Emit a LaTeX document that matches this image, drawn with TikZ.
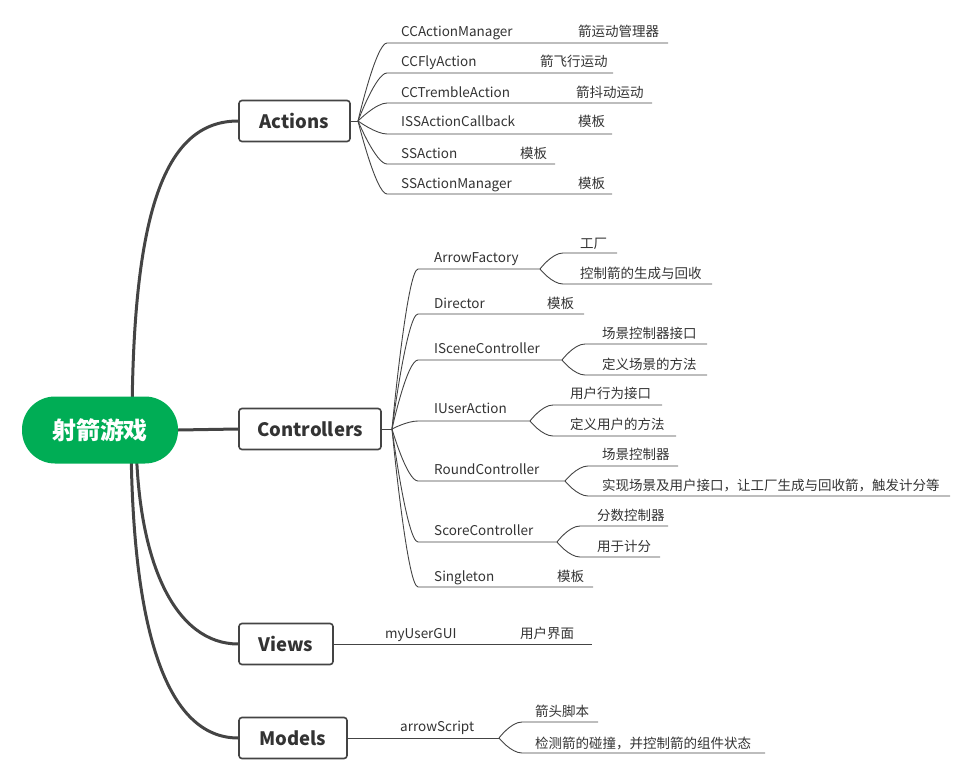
\documentclass[tikz,border=0pt]{standalone}
\usepackage{fontspec}
\setmainfont{Noto Sans CJK SC}
\usetikzlibrary{backgrounds}
\definecolor{mindgreen}{RGB}{0,173,85}
\definecolor{lineg}{RGB}{68,68,68}
\definecolor{inkg}{RGB}{51,51,51}
\begin{document}
\begin{tikzpicture}
    [ x=1pt, y=-1pt
    , every node/.style={font=\fontsize{13.5}{16}\selectfont, text=inkg, inner sep=0pt}
    , root/.style={fill=mindgreen, rounded corners=33pt, minimum width=156, minimum height=67, text=white, font=\fontsize{24}{28}\selectfont\bfseries}
    , topic/.style={draw=lineg, line width=1.6pt, rounded corners=3pt, fill=white, minimum height=41, font=\fontsize{18.5}{22}\selectfont\bfseries}
    , leaf/.style={anchor=base west}
    , trunk/.style={draw=lineg, line width=3pt}
    , twig/.style={draw=lineg, line width=0.9pt}
    , fork/.style={to path={.. controls (\tikztostart) and +(-11,0) .. (\tikztotarget)}}
    ]
    \useasboundingbox (0,0) rectangle (972,781);

    \node [root] (game) at (100,430) {射箭游戏};
    \node [topic, minimum width=111] (actions) at (294.5,121) {Actions};
    \node [topic, minimum width=142] (ctrl) at (310,429) {Controllers};
    \node [topic, minimum width=94] (views) at (286,644) {Views};
    \node [topic, minimum width=108] (models) at (293,738) {Models};

    % Actions
    \coordinate (aFan) at (358,121);
    \path (387,43)  coordinate (ccamL) (668,43)  coordinate (ccamR)
          (401,37)  node [leaf] (ccam) {CCActionManager}
          (578,37)  node [leaf] (ccamN) {箭运动管理器};
    \path (387,73)  coordinate (ccflyL) (613,73)  coordinate (ccflyR)
          (401,67)  node [leaf] (ccfly) {CCFlyAction}
          (540,67)  node [leaf] (ccflyN) {箭飞行运动};
    \path (387,103) coordinate (cctrL) (652,103) coordinate (cctrR)
          (401,98)  node [leaf] (cctr) {CCTrembleAction}
          (576,98)  node [leaf] (cctrN) {箭抖动运动};
    \path (387,134) coordinate (isscL) (612,134) coordinate (isscR)
          (401,127) node [leaf] (issc) {ISSActionCallback}
          (578,127) node [leaf] (isscN) {模板};
    \path (387,164) coordinate (ssaL) (555,164) coordinate (ssaR)
          (401,158) node [leaf] (ssa) {SSAction}
          (520,158) node [leaf] (ssaN) {模板};
    \path (387,194) coordinate (ssamL) (612,194) coordinate (ssamR)
          (401,188) node [leaf] (ssam) {SSActionManager}
          (578,188) node [leaf] (ssamN) {模板};

    % Controllers
    \coordinate (cFan) at (392,429);
    \path (418,269) coordinate (afL) (540,269) coordinate (afB)
          (434,262) node [leaf] (af) {ArrowFactory};
    \path (563,253) coordinate (af1L) (617,253) coordinate (af1R)
          (580,248) node [leaf] (af1) {工厂};
    \path (563,284) coordinate (af2L) (712,284) coordinate (af2R)
          (580,278) node [leaf] (af2) {控制箭的生成与回收};
    \path (418,314) coordinate (dirL) (584,314) coordinate (dirR)
          (434,308) node [leaf] (dir) {Director}
          (547,308) node [leaf] (dirN) {模板};
    \path (418,360) coordinate (iscL) (562,360) coordinate (iscB)
          (434,353) node [leaf] (isc) {ISceneController};
    \path (585,344) coordinate (isc1L) (707,344) coordinate (isc1R)
          (602,338) node [leaf] (isc1) {场景控制器接口};
    \path (585,375) coordinate (isc2L) (707,375) coordinate (isc2R)
          (602,369) node [leaf] (isc2) {定义场景的方法};
    \path (418,421) coordinate (iuaL) (530,421) coordinate (iuaB)
          (434,413) node [leaf] (iua) {IUserAction};
    \path (553,405) coordinate (iua1L) (662,405) coordinate (iua1R)
          (570,398) node [leaf] (iua1) {用户行为接口};
    \path (553,436) coordinate (iua2L) (676,436) coordinate (iua2R)
          (570,429) node [leaf] (iua2) {定义用户的方法};
    \path (418,481) coordinate (rcL) (565,481) coordinate (rcB)
          (434,474) node [leaf] (rc) {RoundController};
    \path (588,466) coordinate (rc1L) (678,466) coordinate (rc1R)
          (602,459) node [leaf] (rc1) {场景控制器};
    \path (588,496) coordinate (rc2L) (950,496) coordinate (rc2R)
          (602,490) node [leaf] (rc2) {实现场景及用户接口，让工厂生成与回收箭，触发计分等};
    \path (418,542) coordinate (scL) (557,542) coordinate (scB)
          (434,535) node [leaf] (sc) {ScoreController};
    \path (580,526) coordinate (sc1L) (668,526) coordinate (sc1R)
          (597,520) node [leaf] (sc1) {分数控制器};
    \path (580,557) coordinate (sc2L) (660,557) coordinate (sc2R)
          (597,551) node [leaf] (sc2) {用于计分};
    \path (418,587) coordinate (sgL) (593,587) coordinate (sgR)
          (434,581) node [leaf] (sg) {Singleton}
          (557,581) node [leaf] (sgN) {模板};

    % Views, Models
    \path (592,644) coordinate (guiR)
          (385,638) node [leaf] (gui) {myUserGUI}
          (520,638) node [leaf] (guiN) {用户界面};
    \path (499,738) coordinate (asB)
          (400,731) node [leaf] (as) {arrowScript};
    \path (522,722) coordinate (as1L) (598,722) coordinate (as1R)
          (535,716) node [leaf] (as1) {箭头脚本};
    \path (522,753) coordinate (as2L) (765,753) coordinate (as2R)
          (535,748) node [leaf] (as2) {检测箭的碰撞，并控制箭的组件状态};

    \begin{scope}[on background layer]
      \draw [trunk] (132,430) coordinate (gA) .. controls +(0,-215) and +(-75,0) .. (actions.west);
      \draw [trunk] (game.east) -- (ctrl.west);
      \draw [trunk] (136,430) coordinate (gV) .. controls +(0,135) and +(-62,0) .. (views.west);
      \draw [trunk] (131,430) coordinate (gM) .. controls +(0,200) and +(-72,0) .. (models.west);

      \draw [twig] (actions.east) -- (aFan);
      \draw [twig] (aFan) to[fork] (ccamL) -- (ccamR);
      \draw [twig] (aFan) to[fork] (ccflyL) -- (ccflyR);
      \draw [twig] (aFan) to[fork] (cctrL) -- (cctrR);
      \draw [twig] (aFan) to[fork] (isscL) -- (isscR);
      \draw [twig] (aFan) to[fork] (ssaL) -- (ssaR);
      \draw [twig] (aFan) to[fork] (ssamL) -- (ssamR);

      \draw [twig] (ctrl.east) -- (cFan);
      \draw [twig] (cFan) to[fork] (afL) -- (afB);
      \draw [twig] (afB) to[fork] (af1L) -- (af1R);
      \draw [twig] (afB) to[fork] (af2L) -- (af2R);
      \draw [twig] (cFan) to[fork] (dirL) -- (dirR);
      \draw [twig] (cFan) to[fork] (iscL) -- (iscB);
      \draw [twig] (iscB) to[fork] (isc1L) -- (isc1R);
      \draw [twig] (iscB) to[fork] (isc2L) -- (isc2R);
      \draw [twig] (cFan) to[fork] (iuaL) -- (iuaB);
      \draw [twig] (iuaB) to[fork] (iua1L) -- (iua1R);
      \draw [twig] (iuaB) to[fork] (iua2L) -- (iua2R);
      \draw [twig] (cFan) to[fork] (rcL) -- (rcB);
      \draw [twig] (rcB) to[fork] (rc1L) -- (rc1R);
      \draw [twig] (rcB) to[fork] (rc2L) -- (rc2R);
      \draw [twig] (cFan) to[fork] (scL) -- (scB);
      \draw [twig] (scB) to[fork] (sc1L) -- (sc1R);
      \draw [twig] (scB) to[fork] (sc2L) -- (sc2R);
      \draw [twig] (cFan) to[fork] (sgL) -- (sgR);

      \draw [twig] (views.east) -- (guiR);
      \draw [twig] (models.east) -- (asB);
      \draw [twig] (asB) to[fork] (as1L) -- (as1R);
      \draw [twig] (asB) to[fork] (as2L) -- (as2R);
    \end{scope}
\end{tikzpicture}
\end{document}
